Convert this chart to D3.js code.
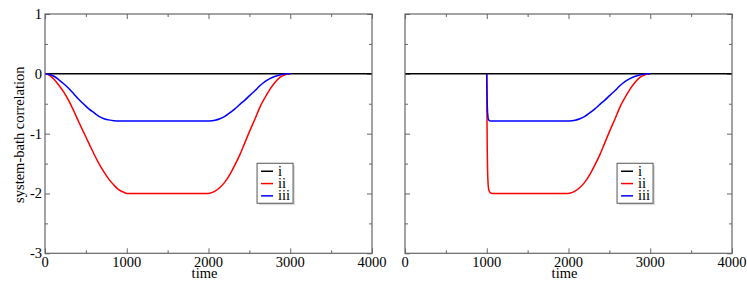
<!DOCTYPE html>
<meta charset="utf-8">
<script src="https://d3js.org/d3.v7.min.js"></script>
<style>
  body { margin: 0; background: #fff; }
  svg text { font-family: "Liberation Serif", "Times New Roman", "DejaVu Serif", serif; fill: #000; }
</style>
<div id="my_dataviz"></div>
<script>
// time vs system-bath correlation
var xTicks = [0, 1000, 2000, 3000, 4000];
var yTicks = [1, 0, -1, -2, -3];
var seriesNames = ["i", "ii", "iii"];
var seriesColors = ["#000000", "#ff0000", "#0000ff"];

// curve i: zero everywhere
var tI = [0, 4000];
var vI = [0, 0];

// left panel, ii
var tLeftII = [0, 50, 110, 170, 232, 295, 355, 415, 477, 540, 599, 660, 721, 780, 843, 905, 966, 1000, 2000, 2030, 2080, 2139, 2200, 2262, 2320, 2384, 2445, 2506, 2570, 2628, 2690, 2751, 2810, 2873, 2930, 2970, 3000];
var vLeftII = [0, -0.02, -0.09, -0.19, -0.31, -0.46, -0.63, -0.81, -0.99, -1.17, -1.34, -1.5, -1.64, -1.76, -1.86, -1.94, -1.98, -2.0, -2.0, -1.99, -1.96, -1.90, -1.81, -1.68, -1.53, -1.35, -1.15, -0.95, -0.75, -0.56, -0.40, -0.26, -0.15, -0.06, -0.02, -0.005, 0];
// left panel, iii
var tLeftIII = [0, 50, 110, 170, 232, 295, 355, 415, 477, 540, 599, 660, 721, 780, 843, 905, 966, 1000, 2000, 2030, 2080, 2139, 2200, 2262, 2320, 2384, 2445, 2506, 2570, 2628, 2690, 2751, 2810, 2873, 2930, 2970, 3000];
var vLeftIII = [0, -0.01, -0.04, -0.1, -0.17, -0.25, -0.34, -0.43, -0.51, -0.59, -0.65, -0.71, -0.75, -0.77, -0.785, -0.79, -0.79, -0.79, -0.79, -0.785, -0.775, -0.75, -0.71, -0.65, -0.59, -0.51, -0.44, -0.36, -0.28, -0.20, -0.13, -0.08, -0.045, -0.02, -0.005, 0, 0];

// right panel, ii
var tRightII = [1000, 1003, 1006, 1010, 1015, 1020, 1030, 1045, 1070, 2000, 2030, 2080, 2139, 2200, 2262, 2320, 2384, 2445, 2506, 2570, 2628, 2690, 2751, 2810, 2873, 2930, 2970, 3000];
var vRightII = [0, -0.75, -1.25, -1.6, -1.8, -1.9, -1.96, -1.99, -2.0, -2.0, -1.99, -1.96, -1.90, -1.81, -1.68, -1.53, -1.35, -1.15, -0.95, -0.75, -0.56, -0.40, -0.26, -0.15, -0.06, -0.02, -0.005, 0];
// right panel, iii
var tRightIII = [1000, 1003, 1006, 1010, 1015, 1020, 1030, 1045, 1060, 2000, 2030, 2080, 2139, 2200, 2262, 2320, 2384, 2445, 2506, 2570, 2628, 2690, 2751, 2810, 2873, 2930, 2970, 3000];
var vRightIII = [0, -0.3, -0.5, -0.64, -0.72, -0.76, -0.78, -0.79, -0.79, -0.79, -0.785, -0.775, -0.75, -0.71, -0.65, -0.59, -0.51, -0.44, -0.36, -0.28, -0.20, -0.13, -0.08, -0.045, -0.02, -0.005, 0, 0];

function zip(t, v) { return t.map(function(d, i) { return {t: d, v: v[i]}; }); }

var svg = d3.select("#my_dataviz")
  .append("svg")
    .attr("width", 747)
    .attr("height", 299);

var panels = [
  { left: 45, yLabels: true, series: [zip(tI, vI), zip(tLeftII, vLeftII), zip(tLeftIII, vLeftIII)] },
  { left: 405, yLabels: false, series: [zip(tI, vI), zip(tRightII, vRightII), zip(tRightIII, vRightIII)] }
];

var width = 327, height = 239.3, marginTop = 14;
var serif = "'Liberation Serif', 'Times New Roman', serif";
var fs = "14.5px";

panels.forEach(function(p) {
  var g = svg.append("g").attr("transform", "translate(" + p.left + "," + marginTop + ")");

  var x = d3.scaleLinear().domain([0, 4000]).range([0, width]);
  var y = d3.scaleLinear().domain([-3, 1]).range([height, 0]);

  var minorX = d3.range(500, 4000, 1000);
  var minorY = d3.range(-2.5, 1, 1);

  // ticks (inward, all four sides)
  function ticks(axis, vals, size, tr) {
    var a = g.append("g")
      .attr("transform", tr || null)
      .call(axis.tickValues(vals).tickSize(-size).tickSizeOuter(0).tickFormat(""));
    a.select(".domain").remove();
    a.selectAll("line").attr("stroke", "#666").attr("stroke-width", 1);
    return a;
  }
  ticks(d3.axisBottom(x), xTicks, 5, "translate(0," + height + ")");
  ticks(d3.axisBottom(x), minorX, 3, "translate(0," + height + ")");
  ticks(d3.axisTop(x), xTicks, 5);
  ticks(d3.axisTop(x), minorX, 3);
  ticks(d3.axisLeft(y), yTicks, 5);
  ticks(d3.axisLeft(y), minorY, 3);
  ticks(d3.axisRight(y), yTicks, 5, "translate(" + width + ",0)");
  ticks(d3.axisRight(y), minorY, 3, "translate(" + width + ",0)");

  // tick labels
  g.append("g").selectAll("text")
    .data(xTicks).enter().append("text")
      .attr("x", function(d) { return x(d); })
      .attr("y", height + 13.5)
      .attr("text-anchor", "middle")
      .style("font-family", serif)
      .style("font-size", fs)
      .text(function(d) { return d; });

  if (p.yLabels) {
    g.append("g").selectAll("text")
      .data(yTicks).enter().append("text")
        .attr("x", -3)
        .attr("y", function(d) { return y(d) + 5; })
        .attr("text-anchor", "end")
        .style("font-family", serif)
        .style("font-size", fs)
        .text(function(d) { return d; });
    g.append("text")
      .attr("transform", "translate(-21," + (height / 2 + 1) + ") rotate(-90)")
      .attr("text-anchor", "middle")
      .style("font-family", serif)
      .style("font-size", fs)
      .text("system-bath correlation");
  }

  g.append("text")
    .attr("x", x(2000) - 4)
    .attr("y", height + 25)
    .attr("text-anchor", "middle")
    .style("font-family", serif)
    .style("font-size", fs)
    .text("time");

  // lines
  var line = d3.line()
    .curve(d3.curveMonotoneX)
    .x(function(d) { return x(d.t); })
    .y(function(d) { return y(d.v); });
  p.series.forEach(function(s, i) {
    g.append("path")
      .datum(s)
      .attr("fill", "none")
      .attr("stroke", seriesColors[i])
      .attr("stroke-width", 1.5)
      .attr("d", line);
  });

  // frame
  g.append("rect")
    .attr("width", width).attr("height", height)
    .attr("fill", "none")
    .attr("stroke", "#666")
    .attr("stroke-width", 1.2);

  // legend
  var lg = g.append("g").attr("transform", "translate(" + (x(2600) - 0.5) + "," + (y(-1.5) - 0.3) + ")");
  lg.append("rect").attr("x", 2).attr("y", 2).attr("width", 36).attr("height", 40).attr("fill", "#ddd");
  lg.append("rect").attr("width", 36).attr("height", 40).attr("fill", "#fff")
    .attr("stroke", "#555").attr("stroke-width", 1);
  seriesNames.forEach(function(n, i) {
    lg.append("line")
      .attr("x1", 4).attr("x2", 16)
      .attr("y1", 8 + i * 12.3).attr("y2", 8 + i * 12.3)
      .attr("stroke", seriesColors[i]).attr("stroke-width", 1.5);
    lg.append("text")
      .attr("x", 21).attr("y", 12.5 + i * 12.3)
      .style("font-family", serif)
      .style("font-size", fs)
      .text(n);
  });
});
</script>
